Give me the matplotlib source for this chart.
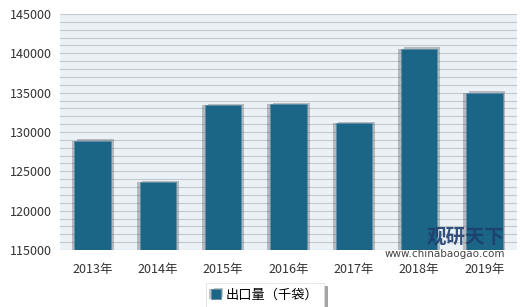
import numpy as np
import matplotlib
matplotlib.use("Agg")
import matplotlib.pyplot as plt
from matplotlib import patheffects as pe
from matplotlib.ticker import MultipleLocator

plt.rcParams['font.family'] = ['Noto Sans CJK SC', 'DejaVu Sans']

years = ["2013年", "2014年", "2015年", "2016年", "2017年", "2018年", "2019年"]
exports = [128900, 123600, 133400, 133500, 131100, 140600, 135000]
series_name = "出口量（千袋）"

bar_color = "#1B6587"

fig = plt.figure(figsize=(5.2, 3.07), dpi=100)
ax = fig.add_axes([60 / 520, 1 - 250 / 307, 457 / 520, 236 / 307])
ax.set_facecolor("#EAF1F7")

x = np.arange(len(years))
bars = ax.bar(x, exports, width=0.56, color=bar_color, edgecolor="#5E8FA8",
              linewidth=0.6, label=series_name, zorder=3)
for b in bars:
    b.set_path_effects([pe.SimplePatchShadow(offset=(-2, 0), shadow_rgbFace="#555555", alpha=0.35),
                        pe.SimplePatchShadow(offset=(2, 1), shadow_rgbFace="#555555", alpha=0.35),
                        pe.Normal()])

ax.set_ylim(115000, 145000)
ax.set_xlim(-0.5, len(years) - 0.5)
ax.yaxis.set_major_locator(MultipleLocator(5000))
ax.yaxis.set_minor_locator(MultipleLocator(1000))
ax.grid(axis="y", which="both", color="#C5C9CE", linewidth=0.8, zorder=0)
ax.set_axisbelow(True)
ax.set_xticks(x)
ax.set_xticklabels(years)
ax.tick_params(axis="both", which="both", length=0, labelsize=9, colors="#333333")
ax.tick_params(axis="x", pad=9)
ax.tick_params(axis="y", pad=6)
for s in ax.spines.values():
    s.set_visible(False)

leg = fig.legend(loc="center", bbox_to_anchor=(265 / 520, 1 - 295 / 307), frameon=True,
                 fancybox=False, shadow=True, fontsize=9.5, handlelength=0.7,
                 handleheight=0.7, handletextpad=0.4, borderpad=0.4)
leg.get_frame().set_edgecolor("#DDDDDD")
leg.get_frame().set_linewidth(0.5)

# watermark
fig.text(466 / 520, 1 - 237 / 307, "观研天下", fontsize=14, fontweight="bold",
         color="#1F3F6E", ha="center", va="center", alpha=0.9)
fig.text(445 / 520, 1 - 254 / 307, "www.chinabaogao.com", fontsize=7.5,
         color="#444444", ha="center", va="center", family="DejaVu Sans")

fig.savefig("out.png", dpi=100)
